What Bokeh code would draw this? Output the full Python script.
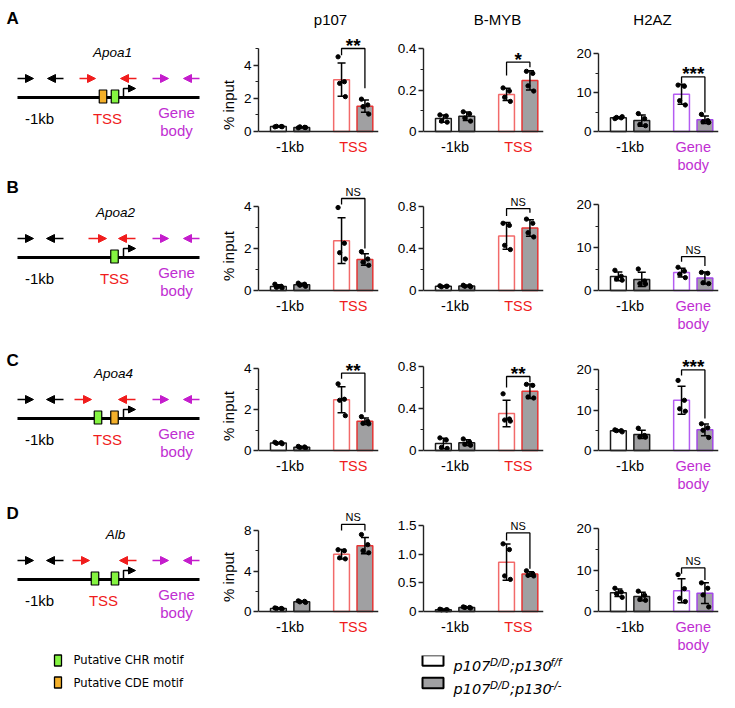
import numpy as np
from bokeh.plotting import figure
from bokeh.models import (Range1d, FixedTicker, ColumnDataSource, Whisker, TeeHead,
                          Arrow, NormalHead)
from bokeh.layouts import row, column
from bokeh.embed import file_html
from bokeh.resources import INLINE
from bokeh.core.properties import value

# ------------------------------------------------------------------ data
gene_names = ["Apoa1", "Apoa2", "Apoa4", "Alb"]
panel_letters = ["A", "B", "C", "D"]
mark_names = ["p107", "B-MYB", "H2AZ"]
promoter_regions = ["-1kb", "TSS"]
body_regions = ["-1kb", "Gene body"]
legend_motifs = ["Putative CHR motif", "Putative CDE motif"]
genotype_base = ["p107", ";p130"]
genotype_sup1 = ["D/D", "D/D"]
genotype_sup2 = ["f/f", "-/-"]

# replicate values (% input); order: [f/f -1kb, -/- -1kb, f/f region2, -/- region2]
apoa1_p107 = [[0.28, 0.30, 0.31, 0.29], [0.22, 0.25, 0.28, 0.24], [4.5, 3.0, 2.9, 2.1], [1.95, 1.6, 1.5, 1.05]]
apoa1_bmyb = [[0.08, 0.075, 0.05, 0.045], [0.095, 0.085, 0.065, 0.05], [0.21, 0.195, 0.165, 0.145], [0.29, 0.28, 0.22, 0.195]]
apoa1_h2az = [[3.3, 3.5, 3.6, 3.8], [4.6, 3.3, 1.8, 1.5], [11.9, 11.6, 7.9, 6.8], [4.4, 2.8, 2.5, 2.3]]

apoa2_p107 = [[0.3, 0.2, 0.15, 0.12], [0.35, 0.3, 0.25, 0.2], [3.95, 2.25, 1.8, 1.5], [1.85, 1.5, 1.35, 1.2]]
apoa2_bmyb = [[0.045, 0.04, 0.035, 0.04], [0.05, 0.045, 0.04, 0.035], [0.64, 0.62, 0.43, 0.39], [0.68, 0.64, 0.55, 0.51]]
apoa2_h2az = [[4.7, 3.3, 2.7, 2.4], [5.0, 2.2, 1.6, 1.5], [5.4, 4.5, 3.8, 3.0], [4.2, 4.0, 1.8, 1.6]]

apoa4_p107 = [[0.4, 0.38, 0.35, 0.33], [0.2, 0.17, 0.15, 0.12], [3.25, 2.5, 2.45, 1.7], [1.65, 1.42, 1.33, 1.3]]
apoa4_bmyb = [[0.12, 0.1, 0.03, 0.02], [0.11, 0.08, 0.06, 0.05], [0.54, 0.30, 0.29, 0.28], [0.63, 0.62, 0.51, 0.50]]
apoa4_h2az = [[5.1, 4.9, 4.9, 4.6], [5.5, 3.7, 3.4, 3.3], [17.3, 12.4, 10.3, 9.7], [6.6, 5.6, 5.0, 3.2]]

alb_p107 = [[0.35, 0.3, 0.3, 0.25], [1.05, 1.0, 0.95, 0.9], [6.1, 6.0, 5.3, 5.2], [7.6, 6.6, 6.0, 5.8]]
alb_bmyb = [[0.04, 0.03, 0.03, 0.03], [0.08, 0.07, 0.07, 0.06], [1.18, 1.08, 0.62, 0.56], [0.71, 0.66, 0.63, 0.62]]
alb_h2az = [[5.6, 4.7, 4.3, 3.4], [4.9, 3.9, 2.9, 2.7], [8.9, 5.5, 3.2, 2.4], [6.9, 5.6, 4.0, 1.1]]

# y axes
apoa1_ymax = [5, 0.4, 20]
apoa2_ymax = [4, 0.8, 20]
apoa4_ymax = [4, 0.8, 20]
alb_ymax = [8, 1.5, 20]
apoa1_ticks = [[0, 2, 4], [0, 0.2, 0.4], [0, 10, 20]]
apoa2_ticks = [[0, 2, 4], [0, 0.4, 0.8], [0, 10, 20]]
apoa4_ticks = [[0, 2, 4], [0, 0.4, 0.8], [0, 10, 20]]
alb_ticks = [[0, 4, 8], [0, 0.5, 1.0, 1.5], [0, 10, 20]]
apoa1_tick_labels = [["0", "2", "4"], ["0", "0.2", "0.4"], ["0", "10", "20"]]
apoa2_tick_labels = [["0", "2", "4"], ["0", "0.4", "0.8"], ["0", "10", "20"]]
apoa4_tick_labels = [["0", "2", "4"], ["0", "0.4", "0.8"], ["0", "10", "20"]]
alb_tick_labels = [["0", "4", "8"], ["0", "0.5", "1.0", "1.5"], ["0", "10", "20"]]
apoa1_minor = [[1, 3, 5], [0.1, 0.3], [5, 15]]
apoa2_minor = [[1, 3], [0.2, 0.6], [5, 15]]
apoa4_minor = [[1, 3], [0.2, 0.6], [5, 15]]
alb_minor = [[2, 6], [], [5, 15]]

# significance: label and bracket [left leg end, top, right leg end]
apoa1_sig = ["**", "*", "***"]
apoa2_sig = ["NS", "NS", "NS"]
apoa4_sig = ["**", "**", "***"]
alb_sig = ["NS", "NS", "NS"]
apoa1_bracket = [[4.6, 5.0, 2.6], [0.27, 0.334, 0.31], [12.3, 14.0, 4.9]]
apoa2_bracket = [[4.1, 4.38, 2.0], [0.71, 0.78, 0.74], [6.7, 7.9, 5.7]]
apoa4_bracket = [[3.5, 3.77, 1.87], [0.6, 0.705, 0.65], [18.5, 19.9, 7.9]]
alb_bracket = [[8.0, 8.6, 8.0], [1.24, 1.37, 0.745], [9.1, 10.5, 7.6]]

# gene schematics (schematic px units): primer arrows (start, end) and motifs
apoa1_primers = [(17, 33), (63, 47), (79, 95), (136, 120), (152, 168), (199, 183)]
apoa2_primers = [(17, 33), (63, 46), (88, 106), (135, 118), (152, 168), (199, 183)]
apoa4_primers = [(17, 33), (63, 46), (74, 91), (135, 118), (152, 168), (199, 183)]
alb_primers = [(17, 33), (63, 46), (72, 89), (136, 119), (152, 168), (199, 183)]
apoa1_motif_x = [102.5, 114.5]
apoa2_motif_x = [114]
apoa4_motif_x = [97.5, 114]
alb_motif_x = [94.5, 114.5]
apoa1_motif_type = ["CDE", "CHR"]
apoa2_motif_type = ["CHR"]
apoa4_motif_type = ["CHR", "CDE"]
alb_motif_type = ["CHR", "CHR"]
tss_site_x = [123, 123, 123, 123]

# ------------------------------------------------------------------ style / layout
FONT = "Liberation Sans"
LFONT = "DejaVu Sans"
RED = "#f01c1c"
MAG = "#c02ed2"
ARROW_MAG = "#c41ccc"
TSS_LINES = ("#f26a6a", "#e43434")
BODY_LINES = ("#b45cf2", "#a248e6")
GREY = "#a0a0a2"
AX = "#222222"
CHR_COL = "#84f440"
CDE_COL = "#f4b02a"
PRIMER_COLORS = ["black", "black", RED, RED, ARROW_MAG, ARROW_MAG]

X_END = 3.8
CENTERS = [1.0, 3.0]
OFFS = [-0.37, 0.37]
BAR_W = 0.5
JITTER = [-0.11, 0.09, -0.06, 0.12]

ROW_FRAME = [(34, 175, 131), (177, 334, 290), (337, 494, 450), (498, 655, 611)]
ROW_BOTTOM_PAD = [2, 3, 4, 0]
AXIS_PX = [[83, 83, 78], [84, 84, 86], [82, 84, 81], [81, 86, 83]]
COL_BORDERS = [(44, 5), (40, 15), (40, 5)]
DIAG_LINE_Y = [97, 257, 418, 579]
LETTER_Y = [18, 187, 360, 513]
GENE_LABEL_X = [112, 115, 113, 115]
TSS_LABEL_X = [107, 114, 107, 103]
TITLE_X = [330, 497, 652]
LEFT_W = 214
RIGHT_W = 509


def canvas(w, h, xr, yr):
    p = figure(width=w, height=h, x_range=Range1d(*xr), y_range=Range1d(*yr),
               x_axis_type=None, y_axis_type=None, min_border=0,
               toolbar_location=None, output_backend="svg")
    p.grid.visible = False
    p.outline_line_color = None
    return p


def bar_panel(r, c, groups, ymax, ticks, tick_labels, minor, sig, bracket, regions):
    ft, fb, z = ROW_FRAME[r]
    s = AXIS_PX[r][c] / ymax
    p = figure(frame_width=120, frame_height=fb - ft,
               x_range=Range1d(0, X_END), y_range=Range1d(-(fb - z) / s, (z - ft) / s),
               min_border_left=COL_BORDERS[c][0], min_border_right=COL_BORDERS[c][1],
               min_border_top=0, min_border_bottom=ROW_BOTTOM_PAD[r],
               toolbar_location=None, output_backend="svg")
    p.grid.visible = False
    p.outline_line_color = None

    is_tss = regions[1] == "TSS"
    reg_col = RED if is_tss else MAG
    reg_lines = TSS_LINES if is_tss else BODY_LINES

    xs = [cx + o for cx in CENTERS for o in OFFS]
    means = [float(np.mean(g)) for g in groups]
    sds = [float(np.std(g, ddof=1)) for g in groups]
    src = ColumnDataSource(dict(
        x=xs, top=means,
        up=[m + d for m, d in zip(means, sds)],
        lo=[m - d for m, d in zip(means, sds)],
        fill=["white", GREY, "white", GREY],
        line=["#1a1a1a", "#1a1a1a", reg_lines[0], reg_lines[1]]))
    p.vbar(x="x", top="top", bottom=0, width=BAR_W, fill_color="fill",
           line_color="line", line_width=1.5, source=src)

    ptx, pty = [], []
    for i, g in enumerate(groups):
        for j, v in enumerate(g):
            ptx.append(xs[i] + JITTER[j % len(JITTER)])
            pty.append(v)
    p.scatter(x=ptx, y=pty, size=4.3, color="black")

    head = dict(size=8, line_color="black", line_width=1.5)
    p.add_layout(Whisker(source=src, base="x", upper="up", lower="lo",
                         line_color="black", line_width=1.5, level="annotation",
                         upper_head=TeeHead(**head), lower_head=TeeHead(**head)))

    # significance bracket
    xw, xk = xs[2], xs[3]
    bl, bt, br = bracket
    p.line(x=[xw, xw, xk, xk], y=[bl, bt, bt, br], line_color="black", line_width=1.3)
    stars = "*" in sig
    p.text(x=[(xw + xk) / 2], y=[bt], text=[sig], text_align="center",
           text_baseline="alphabetic", y_offset=(-3 if stars else -7),
           text_font=value(FONT), text_font_size=("19px" if stars else "11px"),
           text_font_style=("bold" if stars else "normal"), text_color="black")

    # category labels
    first = [regions[0], regions[1].split(" ")[0]]
    p.text(x=CENTERS, y=[0, 0], text=first, text_color=["black", reg_col],
           text_align="center", text_baseline="middle", y_offset=15,
           text_font=value(FONT), text_font_size="14.5px")
    rest = regions[1].split(" ")[1:]
    if rest:
        p.text(x=[CENTERS[1]], y=[0], text=[" ".join(rest)], text_color=reg_col,
               text_align="center", text_baseline="middle", y_offset=33,
               text_font=value(FONT), text_font_size="14.5px")

    ya = p.yaxis[0]
    ya.ticker = FixedTicker(ticks=ticks, minor_ticks=minor)
    ya.major_label_overrides = dict(zip(ticks, tick_labels))
    ya.bounds = (0, ymax)
    ya.axis_line_color = AX
    ya.axis_line_width = 1.4
    ya.major_tick_line_color = AX
    ya.major_tick_line_width = 1.4
    ya.major_tick_out = 5
    ya.major_tick_in = 0
    ya.minor_tick_line_color = AX
    ya.minor_tick_line_width = 1.2
    ya.minor_tick_out = 3
    ya.minor_tick_in = 0
    ya.major_label_standoff = 2
    ya.major_label_text_font = FONT
    ya.major_label_text_font_size = "13.5px"
    ya.major_label_text_color = "black"
    if c == 0:
        ya.axis_label = "% input"
        ya.axis_label_text_font = FONT
        ya.axis_label_text_font_size = "15px"
        ya.axis_label_text_font_style = "normal"
        ya.axis_label_text_color = "black"
        ya.axis_label_standoff = 4

    xa = p.xaxis[0]
    xa.fixed_location = 0
    xa.bounds = (0, X_END)
    xa.ticker = FixedTicker(ticks=[])
    xa.major_tick_line_color = None
    xa.minor_tick_line_color = None
    xa.major_label_text_font_size = "0px"
    xa.axis_line_color = AX
    xa.axis_line_width = 1.4
    return p


# ------------------------------------------------------------------ left schematic column
left = canvas(LEFT_W, 700, (0, LEFT_W), (700, 0))
primers_all = [apoa1_primers, apoa2_primers, apoa4_primers, alb_primers]
motif_x_all = [apoa1_motif_x, apoa2_motif_x, apoa4_motif_x, alb_motif_x]
motif_t_all = [apoa1_motif_type, apoa2_motif_type, apoa4_motif_type, alb_motif_type]
motif_color = {"CHR": CHR_COL, "CDE": CDE_COL}

for r in range(4):
    ly = DIAG_LINE_Y[r]
    left.text(x=[6], y=[LETTER_Y[r]], text=[panel_letters[r]], text_align="left",
              text_baseline="middle", text_font=value(FONT), text_font_size="17px",
              text_font_style="bold", text_color="black")
    left.text(x=[GENE_LABEL_X[r]], y=[ly - 45], text=[gene_names[r]], text_align="center",
              text_baseline="middle", text_font=value(FONT), text_font_size="13.5px",
              text_font_style="italic", text_color="black")
    for (x0, x1), col in zip(primers_all[r], PRIMER_COLORS):
        left.add_layout(Arrow(x_start=x0, y_start=ly - 19, x_end=x1, y_end=ly - 19,
                              line_color=col, line_width=1.6,
                              end=NormalHead(size=8, fill_color=col, line_color=col, line_width=1)))
    left.line(x=[17, 199], y=[ly, ly], line_color="black", line_width=3)
    mx = motif_x_all[r]
    left.rect(x=mx, y=[ly - 1] * len(mx), width=7.5, height=13,
              fill_color=[motif_color[t] for t in motif_t_all[r]],
              line_color="black", line_width=1.2)
    tx = tss_site_x[r]
    left.line(x=[tx, tx, tx + 5], y=[ly - 1.5, ly - 9, ly - 9], line_color="black", line_width=1.5)
    left.add_layout(Arrow(x_start=tx + 4, y_start=ly - 9, x_end=tx + 12, y_end=ly - 9,
                          line_color="black", line_width=1.5,
                          end=NormalHead(size=7, fill_color="black", line_color="black", line_width=1)))
    left.text(x=[39, TSS_LABEL_X[r]], y=[ly + 21, ly + 21], text=[promoter_regions[0], promoter_regions[1]],
              text_color=["black", RED], text_align="center", text_baseline="middle",
              text_font=value(FONT), text_font_size="15px")
    gb = body_regions[1].split(" ")
    left.text(x=[176, 176], y=[ly + 15, ly + 33], text=gb, text_color=MAG,
              text_align="center", text_baseline="middle",
              text_font=value(FONT), text_font_size="15px")

# motif legend
left.rect(x=[57.5, 57.5], y=[660, 682], width=7, height=11,
          fill_color=[CHR_COL, CDE_COL], line_color="black", line_width=1.3)
left.text(x=[73, 73], y=[659.5, 682.5], text=legend_motifs, text_align="left",
          text_baseline="middle", text_font=value(LFONT), text_font_size="11.6px",
          text_color="black")

# ------------------------------------------------------------------ header
hdr = canvas(RIGHT_W, 34, (LEFT_W, LEFT_W + RIGHT_W), (34, 0))
hdr.text(x=TITLE_X, y=[19, 19, 19], text=mark_names, text_align="center",
         text_baseline="middle", text_font=value(FONT), text_font_size="15px",
         text_color="black")

# ------------------------------------------------------------------ bar rows
data_rows = [
    (apoa1_p107, apoa1_bmyb, apoa1_h2az, apoa1_ymax, apoa1_ticks, apoa1_tick_labels, apoa1_minor, apoa1_sig, apoa1_bracket),
    (apoa2_p107, apoa2_bmyb, apoa2_h2az, apoa2_ymax, apoa2_ticks, apoa2_tick_labels, apoa2_minor, apoa2_sig, apoa2_bracket),
    (apoa4_p107, apoa4_bmyb, apoa4_h2az, apoa4_ymax, apoa4_ticks, apoa4_tick_labels, apoa4_minor, apoa4_sig, apoa4_bracket),
    (alb_p107, alb_bmyb, alb_h2az, alb_ymax, alb_ticks, alb_tick_labels, alb_minor, alb_sig, alb_bracket),
]
rows = []
for r, (g0, g1, g2, ym, tk, tl, mn, sg, bk) in enumerate(data_rows):
    figs = []
    for c, g in enumerate([g0, g1, g2]):
        regs = body_regions if c == 2 else promoter_regions
        figs.append(bar_panel(r, c, g, ym[c], tk[c], tl[c], mn[c], sg[c], bk[c], regs))
    rows.append(row(*figs))

# ------------------------------------------------------------------ genotype legend
leg = canvas(RIGHT_W, 45, (LEFT_W, LEFT_W + RIGHT_W), (700, 655))
leg.rect(x=[432.5, 432.5], y=[660, 682.5], width=21, height=10.5,
         fill_color=["white", GREY], line_color="black", line_width=2)
for k, (yb, ys) in enumerate([(665.5, 661.5), (688, 684.5)]):
    leg.text(x=[453, 509.5], y=[yb, yb], text=genotype_base, text_align="left",
             text_baseline="alphabetic", text_font=value(LFONT), text_font_size="14.5px",
             text_font_style="italic", text_color="black")
    leg.text(x=[489.5, 550], y=[ys, ys], text=[genotype_sup1[k], genotype_sup2[k]],
             text_align="left", text_baseline="alphabetic", text_font=value(LFONT),
             text_font_size="10.5px", text_font_style="italic", text_color="black")

layout = row(left, column(hdr, *rows, leg))

with open("out.html", "w") as f:
    f.write(file_html(layout, INLINE))
